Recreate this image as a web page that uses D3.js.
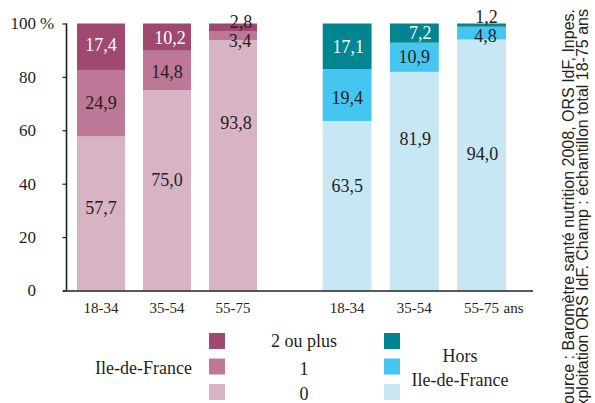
<!DOCTYPE html>
<html>
<head>
<meta charset="utf-8">
<script src="https://cdn.jsdelivr.net/npm/d3@7"></script>
<style>
  html, body { margin: 0; padding: 0; background: #fff; }
  svg { display: block; }
  .serif { font-family: "Liberation Serif", "Times New Roman", serif; fill: #231f20; }
  .sans { font-family: "Liberation Sans", Arial, sans-serif; fill: #231f20; }
</style>
</head>
<body>
<svg id="chart" width="595" height="403"></svg>
<script>
// Number of servings by age group, Ile-de-France vs. rest of France (%)
const ageGroups = ["18-34", "35-54", "55-75"];
const idfZero = [57.7, 75.0, 93.8];
const idfOne = [24.9, 14.8, 3.4];
const idfTwoPlus = [17.4, 10.2, 2.8];
const horsZero = [63.5, 81.9, 94.0];
const horsOne = [19.4, 10.9, 4.8];
const horsTwoPlus = [17.1, 7.2, 1.2];
const yTicks = [0, 20, 40, 60, 80, 100];
const legendLabels = ["2 ou plus", "1", "0"];
const sourceLines = [
  "Source : Baromètre santé nutrition 2008, ORS IdF, Inpes.",
  "Exploitation ORS IdF. Champ : échantillon total 18-75 ans"
];

const fmt = v => v.toFixed(1).replace(".", ",");

const svg = d3.select("#chart");

const y = d3.scaleLinear().domain([0, 100]).range([290.5, 23.5]);
const xIdf = d3.scaleBand().domain(ageGroups).range([77, 257]).paddingInner(0.273).paddingOuter(0);
const xHors = d3.scaleBand().domain(ageGroups).range([322.7, 506]).paddingInner(0.273).paddingOuter(0);

const groups = [
  {
    x: xIdf,
    series: [idfZero, idfOne, idfTwoPlus],
    colors: ["#d8b3c4", "#bc7896", "#a04870"],
    textColors: ["#231f20", "#231f20", "#ffffff"],
    // vertical anchor (in %) of each value label: [series][age]
    labelAt: [[30.9, 41.4, 62.7], [70.2, 81.8, 93.6], [91.9, 94.6, 100.8]],
    labelDx: [[0, 0, 3], [0, 0, 7], [0, 3, 8]]
  },
  {
    x: xHors,
    series: [horsZero, horsOne, horsTwoPlus],
    colors: ["#c6e7f3", "#45c6f1", "#008591"],
    textColors: ["#231f20", "#231f20", "#ffffff"],
    labelAt: [[39.1, 56.7, 51.1], [72.1, 87.4, 95.5], [91.2, 96.4, 102.4]],
    labelDx: [[0, 1, 1], [0, 0, 4], [1, 6, 5]]
  }
];

groups.forEach(g => {
  const stacked = d3.stack().keys([0, 1, 2]).value((d, k) => g.series[k][d])(d3.range(ageGroups.length));
  stacked.forEach((layer, k) => {
    svg.append("g").selectAll("rect").data(layer).join("rect")
      .attr("x", (d, i) => g.x(ageGroups[i]))
      .attr("width", g.x.bandwidth())
      .attr("y", d => y(d[1]))
      .attr("height", d => y(d[0]) - y(d[1]))
      .attr("fill", g.colors[k]);
  });
  stacked.forEach((layer, k) => {
    svg.append("g").selectAll("text").data(layer).join("text")
      .attr("class", "serif")
      .attr("x", (d, i) => g.x(ageGroups[i]) + g.x.bandwidth() / 2 + g.labelDx[k][i])
      .attr("y", (d, i) => y(g.labelAt[k][i]))
      .attr("dy", "0.35em")
      .attr("text-anchor", "middle")
      .style("font-size", "18px")
      .style("fill", (d, i) => (k === 2 && g.series[k][i] < 5) ? "#231f20" : g.textColors[k])
      .text((d, i) => fmt(g.series[k][i]));
  });
});

// Y axis
const yAxis = d3.axisLeft(y).tickValues(yTicks).tickSize(4).tickFormat("");
const ya = svg.append("g").attr("transform", "translate(66.5,0)").call(yAxis);
ya.select(".domain").attr("stroke", "#231f20").attr("stroke-width", 1.6).attr("d", `M0,${y(100)}V${y(0)}`);
ya.selectAll(".tick line").attr("stroke", "#231f20").attr("stroke-width", 1.2);
svg.append("g").selectAll("text").data(yTicks).join("text")
  .attr("class", "serif")
  .attr("x", 36)
  .attr("y", d => y(d))
  .attr("dy", "0.35em")
  .attr("text-anchor", "end")
  .style("font-size", "17px")
  .text(d => d);
svg.append("text").attr("class", "serif")
  .attr("x", 40).attr("y", y(100)).attr("dy", "0.35em")
  .style("font-size", "17px").text("%");

// X axis baseline
svg.append("line")
  .attr("x1", 63).attr("x2", 533)
  .attr("y1", y(0) + 0.5).attr("y2", y(0) + 0.5)
  .attr("stroke", "#231f20").attr("stroke-width", 1.6);

// Category labels
[xIdf, xHors].forEach((xs, gi) => {
  svg.append("g").selectAll("text").data(ageGroups).join("text")
    .attr("class", "serif")
    .attr("x", d => xs(d) + xs.bandwidth() / 2)
    .attr("y", 308)
    .attr("dy", "0.35em")
    .attr("text-anchor", "middle")
    .style("font-size", "15px")
    .text(d => d);
});
svg.append("text").attr("class", "serif")
  .attr("x", xHors("55-75") + xHors.bandwidth() / 2 + 22).attr("y", 308).attr("dy", "0.35em")
  .style("font-size", "15px").text("ans");

// Legend
const legRows = [341, 366.5, 392];
[groups[0].colors, groups[1].colors].forEach((cols, gi) => {
  const lx = gi === 0 ? 209 : 384;
  svg.append("g").selectAll("rect").data([2, 1, 0]).join("rect")
    .attr("x", lx).attr("y", (d, i) => legRows[i] - 8)
    .attr("width", 16).attr("height", 16)
    .attr("fill", d => cols[d]);
});
svg.append("g").selectAll("text").data(legendLabels).join("text")
  .attr("class", "serif")
  .attr("x", 304)
  .attr("y", (d, i) => legRows[i] + (i === 0 ? 0 : 2))
  .attr("dy", "0.35em")
  .attr("text-anchor", "middle")
  .style("font-size", "18px")
  .text(d => d);
svg.append("text").attr("class", "serif")
  .attr("x", 192).attr("y", 368).attr("dy", "0.35em")
  .attr("text-anchor", "end").style("font-size", "18px").text("Ile-de-France");
svg.append("text").attr("class", "serif")
  .attr("x", 460).attr("y", 356).attr("dy", "0.35em")
  .attr("text-anchor", "middle").style("font-size", "18px").text("Hors");
svg.append("text").attr("class", "serif")
  .attr("x", 460).attr("y", 380).attr("dy", "0.35em")
  .attr("text-anchor", "middle").style("font-size", "18px").text("Ile-de-France");

// Source note, rotated along the right edge
svg.append("g").selectAll("text").data(sourceLines).join("text")
  .attr("class", "sans")
  .attr("transform", (d, i) => `translate(${574 + i * 13.5},9) rotate(-90)`)
  .attr("text-anchor", "end")
  .style("font-size", "16px")
  .text(d => d);
</script>
</body>
</html>
